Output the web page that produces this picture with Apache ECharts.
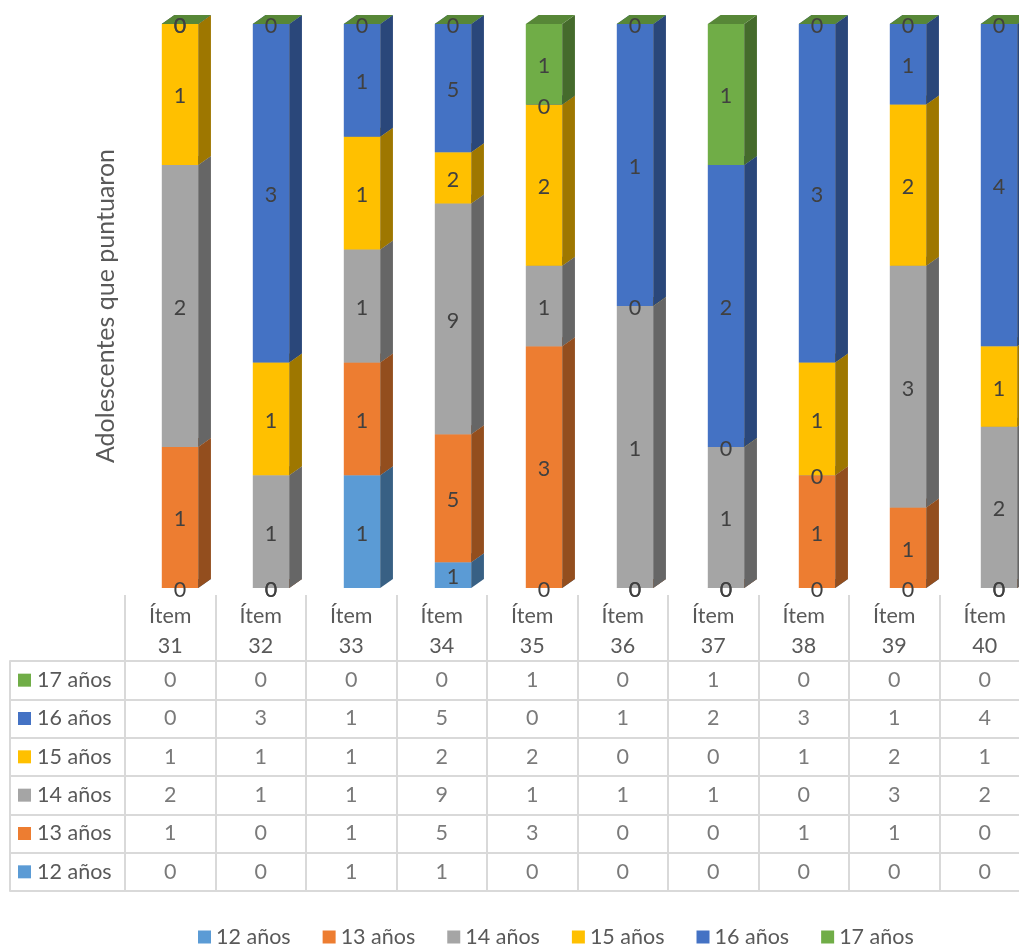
<!DOCTYPE html>
<html>
<head>
<meta charset="utf-8">
<script src="https://cdn.jsdelivr.net/npm/echarts@6/dist/echarts.min.js"></script>
<style>
  html, body { margin: 0; padding: 0; background: #fff; }
  #chart { width: 1019px; height: 944px; }
</style>
</head>
<body>
<div id="chart"></div>
<script>
// categories and series
const categories = ['Ítem 31', 'Ítem 32', 'Ítem 33', 'Ítem 34', 'Ítem 35', 'Ítem 36', 'Ítem 37', 'Ítem 38', 'Ítem 39', 'Ítem 40'];
const ageGroups = ['12 años', '13 años', '14 años', '15 años', '16 años', '17 años'];
const age12 = [0, 0, 1, 1, 0, 0, 0, 0, 0, 0];
const age13 = [1, 0, 1, 5, 3, 0, 0, 1, 1, 0];
const age14 = [2, 1, 1, 9, 1, 1, 1, 0, 3, 2];
const age15 = [1, 1, 1, 2, 2, 0, 0, 1, 2, 1];
const age16 = [0, 3, 1, 5, 0, 1, 2, 3, 1, 4];
const age17 = [0, 0, 0, 0, 1, 0, 1, 0, 0, 0];
const seriesValues = [age12, age13, age14, age15, age16, age17];
const colors = ['#5B9BD5', '#ED7D31', '#A5A5A5', '#FFC000', '#4472C4', '#70AD47'];

const FONT = 'Lato';
const FS = 21.5;
const TEXT = '#595959';
const GRIDLINE = '#d9d9d9';

function shade(hex, f) {
  const n = parseInt(hex.slice(1), 16);
  const r = Math.round(((n >> 16) & 255) * f);
  const g = Math.round(((n >> 8) & 255) * f);
  const b = Math.round((n & 255) * f);
  return `rgb(${r},${g},${b})`;
}

// 100% stacked: start/end percentage per segment
const totals = categories.map((c, i) => seriesValues.reduce((s, arr) => s + arr[i], 0));
const stacked = [];
const running = categories.map(() => 0);
seriesValues.forEach((arr) => {
  stacked.push(arr.map((v, i) => {
    const start = running[i] / totals[i] * 100;
    running[i] += v;
    return [i, start, running[i] / totals[i] * 100, v];
  }));
});

function makeRender(color) {
  const side = shade(color, 0.62);
  const top = shade(color, 0.78);
  return function (params, api) {
    const cat = api.value(0);
    const x = api.coord([cat, 0])[0];
    const y0 = api.coord([cat, api.value(1)])[1];
    const y1 = api.coord([cat, api.value(2)])[1];
    const band = api.size([1, 0])[0];
    const hw = band * 0.2;
    const dx = band * 0.14;
    const dy = 9;
    return {
      type: 'group',
      children: [
        { type: 'rect', shape: { x: x - hw, y: y1, width: hw * 2, height: y0 - y1 }, style: { fill: color }, z2: 1 },
        { type: 'polygon', shape: { points: [[x + hw, y0], [x + hw + dx, y0 - dy], [x + hw + dx, y1 - dy], [x + hw, y1]] }, style: { fill: side }, z2: 1 },
        { type: 'polygon', shape: { points: [[x - hw, y1], [x - hw + dx, y1 - dy], [x + hw + dx, y1 - dy], [x + hw, y1]] }, style: { fill: top }, z2: 1 },
        { type: 'text', x: x, y: (y0 + y1) / 2 + 2, z2: 100,
          style: { text: String(api.value(3)), fill: '#404040', fontSize: FS, fontFamily: FONT, align: 'center', verticalAlign: 'middle' } }
      ]
    };
  };
}

const tableData = [];
seriesValues.forEach((arr, k) => arr.forEach((v, i) => tableData.push([i, k, v])));

const rich = {};
colors.forEach((c, k) => { rich['s' + k] = { width: 13, height: 13, backgroundColor: c }; });
rich.t = { fontSize: FS, fontFamily: FONT, color: TEXT, padding: [0, 0, 0, 6] };

const myChart = echarts.init(document.getElementById('chart'));

const option = {
  animation: false,
  textStyle: { fontFamily: FONT },
  legend: {
    data: ageGroups,
    top: 921,
    left: 193,
    icon: 'rect',
    itemWidth: 13,
    itemHeight: 13,
    itemGap: 32,
    textStyle: { fontSize: FS, color: TEXT, fontFamily: FONT }
  },
  grid: [
    { left: 134.5, width: 910, top: 24, height: 564, outerBoundsMode: 'none' },
    { left: 125, width: 905, top: 661, height: 230, show: true, borderColor: GRIDLINE, borderWidth: 2, outerBoundsMode: 'none' }
  ],
  xAxis: [
    { type: 'category', gridIndex: 0, data: categories, show: false },
    {
      type: 'category', gridIndex: 1, data: categories, position: 'top',
      axisLine: { show: true, lineStyle: { color: GRIDLINE, width: 2 } },
      axisTick: { show: true, interval: 0, length: 66, lineStyle: { color: GRIDLINE, width: 2 } },
      axisLabel: { interval: 0, margin: 0, fontSize: FS, lineHeight: 30, color: TEXT, fontFamily: FONT,
        formatter: (c) => c.replace(' ', '\n') },
      splitLine: { show: true, interval: 0, lineStyle: { color: GRIDLINE, width: 2 } }
    }
  ],
  yAxis: [
    {
      type: 'value', gridIndex: 0, min: 0, max: 100,
      axisLine: { show: false }, axisTick: { show: false }, axisLabel: { show: false }, splitLine: { show: false },
      name: 'Adolescentes que puntuaron', nameLocation: 'middle', nameGap: 16,
      nameTextStyle: { fontSize: 25, color: TEXT, fontFamily: FONT, padding: [0, 0, 0, 0] }
    },
    {
      type: 'category', gridIndex: 1, data: ageGroups,
      axisLine: { show: true, lineStyle: { color: GRIDLINE, width: 2 } },
      axisTick: { show: true, interval: 0, length: 115, lineStyle: { color: GRIDLINE, width: 2 } },
      axisLabel: { interval: 0, align: 'left', margin: 107,
        formatter: (v, i) => `{s${i}|}{t|${v}}`, rich: rich },
      splitLine: { show: true, interval: 0, lineStyle: { color: GRIDLINE, width: 2 } }
    },
    {
      type: 'category', gridIndex: 1, data: ageGroups, position: 'left', offset: 115,
      axisLine: { show: true, lineStyle: { color: GRIDLINE, width: 2 } },
      axisTick: { show: false }, axisLabel: { show: false }, splitLine: { show: false }
    }
  ],
  series: [
    ...ageGroups.map((name, k) => ({
      name: name,
      type: 'custom',
      xAxisIndex: 0,
      yAxisIndex: 0,
      itemStyle: { color: colors[k] },
      renderItem: makeRender(colors[k]),
      encode: { x: 0, y: [1, 2] },
      data: stacked[k]
    })),
    {
      type: 'scatter',
      xAxisIndex: 1,
      yAxisIndex: 1,
      symbolSize: 1,
      itemStyle: { color: 'rgba(0,0,0,0)' },
      silent: true,
      label: { show: true, position: 'inside', formatter: (p) => String(p.value[2]),
        fontSize: FS, color: TEXT, fontFamily: FONT },
      data: tableData
    }
  ]
};

myChart.setOption(option);
window.addEventListener('resize', () => myChart.resize());
</script>
</body>
</html>
